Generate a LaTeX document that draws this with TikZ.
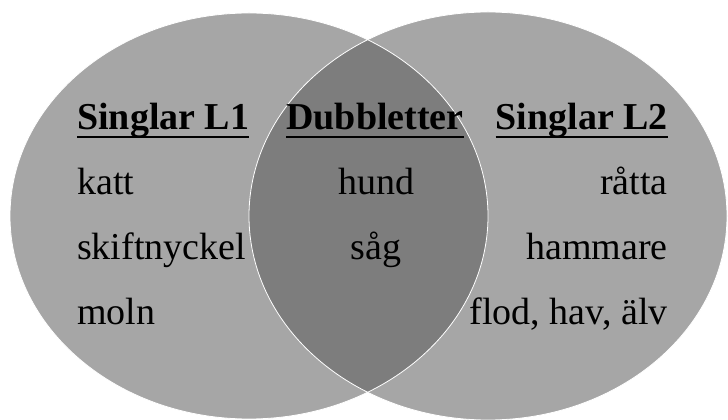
\documentclass[tikz,border=0pt]{standalone}
\usepackage{fontspec}
\setmainfont{Liberation Serif}
\definecolor{venncolor1}{HTML}{A6A6A6}
\definecolor{venncolor2}{HTML}{7D7D7D}

\begin{document}
\begin{tikzpicture}[x = 1pt, y = 1pt]

        \useasboundingbox (0, 0) rectangle (728, 420);

        % Circles
        \fill [venncolor1] (249, 204) ellipse [x radius = 239, y radius = 203];
        \fill [venncolor1] (488, 204) ellipse [x radius = 239, y radius = 204];
        \begin{scope}
            \clip (249, 204) ellipse [x radius = 239, y radius = 203];
            \fill [venncolor2] (488, 204) ellipse [x radius = 239, y radius = 204];
        \end{scope}
        \draw [white, line width = 0.8pt] (249, 204) ellipse [x radius = 239, y radius = 203];
        \draw [white, line width = 0.8pt] (488, 204) ellipse [x radius = 239, y radius = 204];

        % Headings
        \node [inner sep = 0pt, font = \fontsize{38}{40}\selectfont\bfseries, anchor = base west] (l1) at (77, 290) {Singlar L1};
        \node [inner sep = 0pt, font = \fontsize{38}{40}\selectfont\bfseries, anchor = base] (dub) at (375, 290) {Dubbletter};
        \node [inner sep = 0pt, font = \fontsize{38}{40}\selectfont\bfseries, anchor = base east] (l2) at (668, 290) {Singlar L2};
        \draw [line width = 2.2pt] ([yshift = -7pt] l1.base west) -- ([yshift = -7pt] l1.base east);
        \draw [line width = 2.2pt] ([yshift = -7pt] dub.base west) -- ([yshift = -7pt] dub.base east);
        \draw [line width = 2.2pt] ([yshift = -7pt] l2.base west) -- ([yshift = -7pt] l2.base east);

        % Words
        \node [inner sep = 0pt, font = \fontsize{38}{40}\selectfont, anchor = base west] (a) at (77, 225) {katt};
        \node [inner sep = 0pt, font = \fontsize{38}{40}\selectfont, anchor = base west] (b) at (77, 160) {skiftnyckel};
        \node [inner sep = 0pt, font = \fontsize{38}{40}\selectfont, anchor = base west] (c) at (77, 95) {moln};

        \node [inner sep = 0pt, font = \fontsize{38}{40}\selectfont, anchor = base] (d) at (376, 225) {hund};
        \node [inner sep = 0pt, font = \fontsize{38}{40}\selectfont, anchor = base] (e) at (376, 160) {såg};

        \node [inner sep = 0pt, font = \fontsize{38}{40}\selectfont, anchor = base east] (f) at (668, 225) {råtta};
        \node [inner sep = 0pt, font = \fontsize{38}{40}\selectfont, anchor = base east] (g) at (668, 160) {hammare};
        \node [inner sep = 0pt, font = \fontsize{38}{40}\selectfont, anchor = base east] (h) at (668, 95) {flod, hav, älv};

    \end{tikzpicture}
\end{document}
